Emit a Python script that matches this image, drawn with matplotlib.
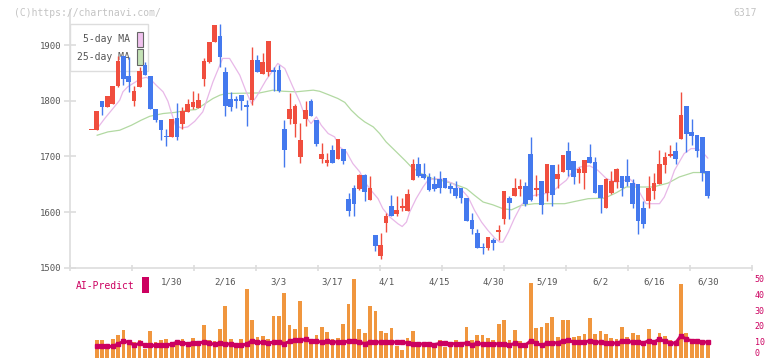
import numpy as np
import matplotlib.pyplot as plt
from matplotlib.patches import Rectangle

W, H = 772, 361

# --- daily candles (1..116) ---
opens = [1748, 1748, 1799, 1789, 1794, 1826, 1880, 1844, 1799, 1825,
         1864, 1844, 1785, 1766, 1736, 1734, 1769, 1758, 1780, 1789,
         1787, 1839, 1870, 1905, 1916, 1851, 1803, 1803, 1810, 1792,
         1801, 1873, 1848, 1852, 1855, 1855, 1749, 1767, 1758, 1698,
         1768, 1799, 1765, 1695, 1689, 1711, 1695, 1714, 1623, 1644,
         1641, 1666, 1621, 1559, 1521, 1581, 1611, 1596, 1608, 1602,
         1657, 1687, 1668, 1663, 1650, 1659, 1662, 1647, 1644, 1644,
         1626, 1586, 1562, 1538, 1535, 1550, 1565, 1587, 1626, 1628,
         1641, 1647, 1704, 1640, 1656, 1635, 1684, 1659, 1672, 1710,
         1692, 1671, 1671, 1699, 1690, 1648, 1608, 1635, 1654, 1665,
         1665, 1652, 1650, 1608, 1619, 1638, 1650, 1684, 1701, 1710,
         1731, 1790, 1743, 1738, 1734, 1674]
highs = [1748, 1781, 1799, 1808, 1826, 1881, 1880, 1879, 1826, 1861,
         1869, 1844, 1785, 1766, 1749, 1767, 1796, 1789, 1803, 1817,
         1813, 1876, 1905, 1936, 1938, 1861, 1815, 1808, 1810, 1801,
         1896, 1883, 1886, 1907, 1861, 1864, 1765, 1813, 1795, 1760,
         1799, 1803, 1765, 1724, 1706, 1720, 1732, 1714, 1635, 1648,
         1669, 1668, 1665, 1559, 1563, 1598, 1630, 1629, 1626, 1641,
         1695, 1699, 1689, 1670, 1665, 1674, 1662, 1652, 1656, 1644,
         1626, 1599, 1569, 1544, 1555, 1553, 1577, 1638, 1628, 1662,
         1659, 1654, 1735, 1666, 1656, 1686, 1684, 1686, 1702, 1725,
         1692, 1681, 1693, 1722, 1699, 1648, 1662, 1674, 1680, 1665,
         1695, 1659, 1650, 1620, 1665, 1671, 1711, 1707, 1720, 1725,
         1815, 1790, 1767, 1738, 1734, 1674]
lows = [1748, 1748, 1774, 1789, 1794, 1825, 1829, 1815, 1791, 1825,
        1846, 1785, 1762, 1730, 1719, 1734, 1730, 1750, 1780, 1786,
        1787, 1827, 1868, 1905, 1861, 1773, 1782, 1787, 1783, 1755,
        1793, 1851, 1848, 1844, 1817, 1816, 1681, 1759, 1734, 1689,
        1755, 1773, 1719, 1689, 1683, 1689, 1695, 1686, 1593, 1592,
        1639, 1620, 1621, 1530, 1515, 1565, 1593, 1593, 1602, 1602,
        1657, 1663, 1659, 1638, 1637, 1635, 1644, 1635, 1626, 1617,
        1584, 1561, 1536, 1524, 1531, 1531, 1549, 1578, 1587, 1628,
        1629, 1611, 1620, 1628, 1596, 1619, 1611, 1644, 1672, 1665,
        1650, 1653, 1641, 1689, 1635, 1599, 1608, 1632, 1644, 1628,
        1646, 1608, 1561, 1572, 1607, 1623, 1650, 1671, 1698, 1686,
        1731, 1707, 1720, 1698, 1656, 1625]
closes = [1748, 1781, 1789, 1808, 1826, 1871, 1839, 1834, 1817, 1853,
          1846, 1785, 1766, 1747, 1734, 1767, 1734, 1781, 1794, 1797,
          1801, 1871, 1905, 1936, 1879, 1791, 1789, 1799, 1800, 1789,
          1873, 1851, 1869, 1907, 1851, 1817, 1711, 1786, 1790, 1729,
          1783, 1773, 1722, 1704, 1693, 1689, 1732, 1692, 1601, 1614,
          1666, 1636, 1644, 1539, 1541, 1593, 1593, 1604, 1611, 1632,
          1687, 1665, 1662, 1640, 1641, 1643, 1644, 1641, 1628, 1626,
          1584, 1569, 1536, 1535, 1555, 1544, 1568, 1638, 1617, 1644,
          1646, 1614, 1622, 1644, 1613, 1686, 1631, 1668, 1702, 1675,
          1663, 1677, 1693, 1689, 1635, 1626, 1659, 1656, 1678, 1644,
          1654, 1614, 1584, 1578, 1644, 1653, 1686, 1698, 1704, 1695,
          1774, 1741, 1737, 1710, 1671, 1629]

# moving averages (candle position, price)
ma5_x = [2.1, 3.5, 5.05, 6.3, 6.9, 7.8, 8.8, 10.3, 11.3, 12.2,
         13.1, 14.4, 15.3, 15.9, 16.7, 17.8, 19.0, 20.3, 21.8, 23.7,
         25.5, 26.8, 28.7, 29.9, 30.9, 31.8, 33.6, 35.8, 37.1, 38.6,
         39.9, 40.8, 42.0, 43.0, 43.9, 45.2, 46.4, 47.3, 48.6, 49.8,
         51.1, 52.0, 53.2, 54.5, 55.4, 56.7, 58.2, 59.0, 59.8, 60.4,
         61.6, 62.9, 63.8, 65.1, 66.6, 68.5, 70.0, 71.3, 72.5, 73.8,
         75.0, 76.3, 77.2, 77.8, 78.8, 79.9, 81.2, 82.5, 83.7, 85.6,
         87.1, 88.4, 89.6, 90.5, 92.1, 94.0, 95.5, 97.1, 98.8, 100.2,
         101.4, 102.4, 103.6, 104.5, 107.0, 107.9, 108.8, 109.8, 110.7, 111.6,
         112.9, 114.1, 115.0, 116.0]
ma5_v = [1750, 1768, 1786, 1801, 1816, 1825, 1831, 1840, 1842, 1837,
         1828, 1816, 1799, 1780, 1756, 1751, 1753, 1763, 1780, 1834,
         1876, 1876, 1846, 1816, 1795, 1807, 1837, 1867, 1858, 1825,
         1798, 1774, 1759, 1771, 1756, 1741, 1735, 1717, 1708, 1687,
         1672, 1654, 1639, 1624, 1606, 1591, 1579, 1574, 1582, 1600,
         1624, 1645, 1657, 1660, 1659, 1651, 1641, 1627, 1603, 1582,
         1567, 1553, 1546, 1546, 1564, 1588, 1612, 1627, 1630, 1633,
         1637, 1648, 1657, 1669, 1681, 1683, 1675, 1660, 1654, 1656,
         1660, 1651, 1630, 1615, 1615, 1627, 1648, 1675, 1690, 1705,
         1714, 1714, 1708, 1697]
ma25_x = [2.1, 4.1, 6.3, 8.5, 10.3, 11.9, 14.4, 16.6, 19.0, 20.5,
          21.8, 23.7, 25.0, 26.2, 32.4, 34.9, 36.8, 39.2, 42.4, 43.6,
          45.2, 47.0, 48.3, 49.5, 50.8, 52.0, 53.6, 54.8, 56.0, 57.6,
          59.5, 60.7, 62.6, 64.7, 66.6, 68.5, 71.0, 72.5, 74.1, 75.9,
          77.8, 79.4, 81.2, 83.7, 89.3, 91.2, 93.7, 96.8, 99.0, 100.8,
          105.8, 108.6, 110.7, 113.3, 115.0, 116.0]
ma25_v = [1738, 1744, 1747, 1756, 1765, 1772, 1777, 1779, 1783, 1784,
          1792, 1804, 1810, 1813, 1814, 1819, 1817, 1816, 1819, 1817,
          1811, 1804, 1797, 1783, 1771, 1762, 1753, 1741, 1726, 1711,
          1693, 1681, 1669, 1660, 1656, 1651, 1642, 1630, 1618, 1613,
          1606, 1604, 1612, 1615, 1615, 1619, 1624, 1625, 1635, 1645,
          1645, 1652, 1663, 1671, 1671, 1667]

# volume panel (candles 2..116)
volume = [11.1, 11.1, 8.6, 11.7, 14.2, 17.4, 11.1, 10.0, 11.1, 5.4,
          16.7, 10.0, 11.1, 11.7, 9.0, 10.5, 11.7, 9.0, 12.3, 7.3,
          20.5, 11.1, 10.5, 18.0, 32.4, 11.7, 9.0, 11.7, 43.0, 23.6,
          13.0, 13.6, 11.7, 26.0, 26.0, 40.6, 20.5, 18.0, 35.6, 19.2,
          9.8, 14.2, 19.2, 16.1, 11.7, 12.3, 21.1, 33.7, 49.4, 18.0,
          15.5, 32.4, 29.3, 16.7, 15.7, 18.6, 7.3, 4.8, 12.3, 16.7,
          8.6, 8.6, 9.8, 6.7, 11.1, 6.7, 6.7, 11.1, 9.8, 19.2,
          11.1, 14.2, 14.2, 12.3, 11.1, 21.1, 23.6, 11.1, 17.4, 10.5,
          8.6, 46.9, 18.6, 19.2, 21.8, 25.5, 13.0, 23.6, 23.6, 13.0,
          13.6, 14.9, 24.9, 14.9, 16.7, 14.9, 12.3, 11.7, 19.2, 13.0,
          15.5, 14.2, 10.5, 18.0, 10.5, 15.5, 13.6, 11.1, 7.3, 46.2,
          15.5, 10.5, 8.6, 10.5, 9.8]
ai_predict = [7.1, 7.1, 7.1, 7.1, 8.6, 10.3, 9.8, 7.9, 9.0, 7.9,
              7.7, 7.7, 7.7, 7.7, 8.6, 9.6, 9.4, 8.6, 9.4, 9.4,
              9.8, 9.2, 8.4, 9.4, 8.6, 8.6, 7.7, 7.7, 8.6, 10.7,
              9.6, 9.6, 9.2, 9.8, 10.0, 8.8, 10.3, 10.9, 10.9, 11.5,
              10.3, 10.3, 9.8, 10.3, 10.0, 9.8, 9.8, 10.3, 10.3, 9.8,
              8.8, 9.8, 9.8, 9.8, 9.8, 9.8, 9.8, 9.8, 9.2, 8.8,
              8.6, 8.6, 8.6, 8.2, 9.0, 9.0, 8.8, 8.8, 8.8, 9.2,
              8.2, 9.0, 8.6, 8.6, 8.6, 8.8, 8.8, 7.9, 9.0, 7.7,
              7.9, 10.7, 9.0, 7.9, 9.0, 9.2, 9.4, 10.5, 10.9, 9.8,
              9.8, 9.8, 10.7, 9.8, 9.8, 9.2, 9.4, 9.0, 10.3, 10.3,
              9.8, 9.8, 9.2, 10.7, 9.8, 11.7, 10.3, 9.2, 9.2, 13.8,
              11.5, 10.7, 10.3, 9.8, 9.8]

date_pos = [16, 26, 36, 46, 56, 66, 76, 86, 96, 106, 116]
date_labels = ["1/30", "2/16", "3/3", "3/17", "4/1", "4/15",
               "4/30", "5/19", "6/2", "6/16", "6/30"]

UP, DOWN = "#f04e3e", "#4479ee"
PINK, GREEN = "#e8b8e8", "#b2d9a2"
VOL, AI = "#f0963e", "#cc0060"
GRID = "#dddddd"
MONO = "DejaVu Sans Mono"


def fx(px):
    return px / W


def fy(py):
    return 1 - py / H


fig = plt.figure(figsize=(W / 100, H / 100), dpi=100)

x_left, x_right = -2.97, 124.26
idx = np.arange(1, len(opens) + 1)
o, h, l, c = map(np.array, (opens, highs, lows, closes))

# --- price axes ---
ax = fig.add_axes([fx(70), fy(267.7), fx(752) - fx(70), fy(10) - fy(267.7)])
ax.set_xlim(x_left, x_right)
ax.set_ylim(1500, 1963)
for s in ("top", "right"):
    ax.spines[s].set_visible(False)
for s in ("left", "bottom"):
    ax.spines[s].set_color(GRID)
    ax.spines[s].set_linewidth(1.2)
ax.set_xticks(np.linspace(x_left, x_right, 12))
ax.set_xticklabels([])
ax.set_yticks([1500, 1600, 1700, 1800, 1900])
ax.tick_params(axis="x", direction="inout", length=5, width=1.2, color=GRID)
ax.tick_params(axis="y", direction="inout", length=8, width=1.2, color=GRID,
               labelsize=6.5, labelcolor="#555555", pad=2)
for t in ax.get_yticklabels():
    t.set_fontfamily(MONO)

colors = np.where(c >= o, UP, DOWN)
ax.vlines(idx, l, h, colors=colors, linewidth=1.0, zorder=3)
body_lo = np.minimum(o, c)
body_h = np.maximum(np.abs(c - o), 1.5)
ax.bar(idx, body_h, bottom=body_lo, width=0.87, color=colors, linewidth=0, zorder=4)

ax.plot(ma25_x, ma25_v, color=GREEN, linewidth=0.9, zorder=2)
ax.plot(ma5_x, ma5_v, color=PINK, linewidth=0.9, zorder=2)

# legend box
ax.add_patch(Rectangle((fx(70), fy(71)), fx(148.3) - fx(70), fy(24.3) - fy(71),
                       transform=fig.transFigure, facecolor="white",
                       edgecolor=GRID, linewidth=1.0, zorder=1))
for label, yy, fill in (("5-day MA", 39.5, "#f0c2ee"), ("25-day MA", 57, "#c4e2b6")):
    ax.text(fx(130), fy(yy), label, transform=fig.transFigure, ha="right",
            va="center", fontsize=7, family=MONO, color="#555555", zorder=1.5)
    ax.add_patch(Rectangle((fx(136.8), fy(yy + 7.5)), fx(6), fy(0) - fy(15),
                           transform=fig.transFigure, facecolor=fill,
                           edgecolor="#666666", linewidth=0.8, zorder=1.5))

fig.text(fx(14), fy(12.5), "(C)https://chartnavi.com/", fontsize=7,
         family=MONO, color="#c4c4c4", va="center", ha="left")
fig.text(fx(757), fy(12.5), "6317", fontsize=7, family=MONO,
         color="#c4c4c4", va="center", ha="right")

# --- volume axes ---
av = fig.add_axes([fx(70), fy(357.7), fx(752) - fx(70), fy(272) - fy(357.7)])
av.set_xlim(x_left, x_right)
av.set_ylim(0, 53.9)
for s in av.spines.values():
    s.set_visible(False)
av.set_xticks([])
av.yaxis.tick_right()
av.set_yticks([0, 10, 20, 30, 40, 50])
av.tick_params(axis="y", length=0, pad=2, labelsize=6, labelcolor=AI)
for t in av.get_yticklabels():
    t.set_fontfamily(MONO)
av.get_yticklabels()[0].set_verticalalignment("bottom")

vidx = np.arange(2, 2 + len(volume))
av.bar(vidx, volume, width=0.7, color=VOL, linewidth=0, zorder=2)
av.plot(vidx, ai_predict, color=AI, linewidth=2.2, marker="s",
        markersize=2.2, zorder=3)

for p, lab in zip(date_pos, date_labels):
    av.text(p, 47.4, lab, ha="center", va="center", fontsize=6.5,
            family=MONO, color="#555555")

fig.text(fx(76), fy(286), "AI-Predict", fontsize=7, family=MONO,
         color=AI, va="center", ha="left")
fig.patches.append(Rectangle((fx(142.3), fy(292.7)), fx(6.7), fy(0) - fy(15.4),
                             transform=fig.transFigure, facecolor=AI,
                             edgecolor="none"))

fig.savefig("out.png", dpi=100)
